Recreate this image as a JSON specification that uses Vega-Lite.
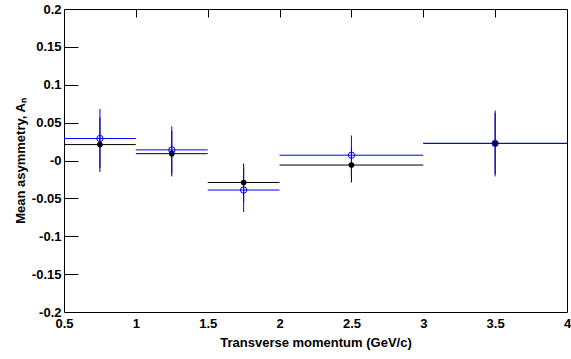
{
  "$schema": "https://vega.github.io/schema/vega-lite/v6.json",
  "width": 503,
  "height": 303,
  "autosize": "none",
  "padding": {"left": 64, "top": 9, "right": 4, "bottom": 47},
  "background": "white",
  "config": {
    "font": "Liberation Sans",
    "view": {"stroke": "#000", "strokeWidth": 1},
    "axis": {"domain": false, "ticks": false, "tickSize": 0, "grid": true, "gridColor": "#000", "gridOpacity": 1, "gridWidth": 1, "labelColor": "#000", "titleColor": "#000", "labelFont": "Liberation Sans", "titleFont": "Liberation Sans", "labelFontWeight": "bold", "titleFontWeight": "bold", "labelFontSize": 13, "titleFontSize": 13}
  },
  "data": {"values": [
    {"series": "black", "x": 0.75, "xlo": 0.5, "xhi": 1.0, "y": 0.021, "ylo": -0.015, "yhi": 0.057},
    {"series": "black", "x": 1.25, "xlo": 1.0, "xhi": 1.5, "y": 0.009, "ylo": -0.021, "yhi": 0.039},
    {"series": "black", "x": 1.75, "xlo": 1.5, "xhi": 2.0, "y": -0.029, "ylo": -0.055, "yhi": -0.004},
    {"series": "black", "x": 2.5, "xlo": 2.0, "xhi": 3.0, "y": -0.006, "ylo": -0.029, "yhi": 0.017},
    {"series": "black", "x": 3.5, "xlo": 3.0, "xhi": 4.0, "y": 0.0226, "ylo": -0.018, "yhi": 0.063},
    {"series": "blue", "x": 0.75, "xlo": 0.5, "xhi": 1.0, "y": 0.029, "ylo": -0.01, "yhi": 0.068},
    {"series": "blue", "x": 1.25, "xlo": 1.0, "xhi": 1.5, "y": 0.014, "ylo": -0.017, "yhi": 0.045},
    {"series": "blue", "x": 1.75, "xlo": 1.5, "xhi": 2.0, "y": -0.039, "ylo": -0.068, "yhi": -0.01},
    {"series": "blue", "x": 2.5, "xlo": 2.0, "xhi": 3.0, "y": 0.007, "ylo": -0.019, "yhi": 0.033},
    {"series": "blue", "x": 3.5, "xlo": 3.0, "xhi": 4.0, "y": 0.0226, "ylo": -0.021, "yhi": 0.066}
  ]},
  "resolve": {"scale": {"x": "shared", "y": "shared"}, "axis": {"x": "independent", "y": "independent"}},
  "layer": [
    {
      "transform": [{"filter": "datum.series == 'black'"}],
      "mark": {"type": "rule", "color": "#000", "strokeWidth": 1},
      "encoding": {
        "x": {"field": "xlo", "type": "quantitative", "scale": {"domain": [0.5, 4], "nice": false, "zero": false},
          "axis": {"orient": "bottom", "values": [1, 1.5, 2, 2.5, 3, 3.5], "gridDash": [8, 2000], "labelPadding": 5, "labelExpr": "toString(datum.value)", "title": "Transverse momentum (GeV/c)", "titlePadding": 6, "labelFlush": false, "labelOverlap": false}},
        "x2": {"field": "xhi"},
        "y": {"field": "y", "type": "quantitative", "scale": {"domain": [-0.2, 0.2], "nice": false, "zero": false},
          "axis": {"orient": "left", "values": [-0.15, -0.1, -0.05, 0, 0.05, 0.1, 0.15], "gridDash": [14, 2000], "labelPadding": 3, "labelExpr": "datum.value == 0 ? '-0' : toString(datum.value)", "title": "Mean asymmetry, Aₙ", "titlePadding": 4, "labelFlush": false, "labelOverlap": false}}
      }
    },
    {
      "transform": [{"filter": "datum.series == 'black'"}],
      "mark": {"type": "rule", "color": "#000", "strokeWidth": 1},
      "encoding": {
        "x": {"field": "x", "type": "quantitative", "scale": {"domain": [0.5, 4], "nice": false, "zero": false}, "axis": null},
        "y": {"field": "ylo", "type": "quantitative", "scale": {"domain": [-0.2, 0.2], "nice": false, "zero": false}, "axis": null},
        "y2": {"field": "yhi"}
      }
    },
    {
      "transform": [{"filter": "datum.series == 'blue'"}],
      "mark": {"type": "rule", "color": "#0000ff", "strokeWidth": 1},
      "encoding": {
        "x": {"field": "xlo", "type": "quantitative", "scale": {"domain": [0.5, 4], "nice": false, "zero": false}, "axis": null},
        "x2": {"field": "xhi"},
        "y": {"field": "y", "type": "quantitative", "scale": {"domain": [-0.2, 0.2], "nice": false, "zero": false}, "axis": null}
      }
    },
    {
      "transform": [{"filter": "datum.series == 'blue'"}],
      "mark": {"type": "rule", "color": "#0000ff", "strokeWidth": 1},
      "encoding": {
        "x": {"field": "x", "type": "quantitative", "scale": {"domain": [0.5, 4], "nice": false, "zero": false}, "axis": null},
        "y": {"field": "ylo", "type": "quantitative", "scale": {"domain": [-0.2, 0.2], "nice": false, "zero": false}, "axis": null},
        "y2": {"field": "yhi"}
      }
    },
    {
      "transform": [{"filter": "datum.series == 'black'"}],
      "mark": {"type": "point", "shape": "circle", "filled": true, "color": "#000", "size": 32, "opacity": 1},
      "encoding": {
        "x": {"field": "x", "type": "quantitative", "scale": {"domain": [0.5, 4], "nice": false, "zero": false}, "axis": null},
        "y": {"field": "y", "type": "quantitative", "scale": {"domain": [-0.2, 0.2], "nice": false, "zero": false}, "axis": null}
      }
    },
    {
      "transform": [{"filter": "datum.series == 'blue'"}],
      "mark": {"type": "point", "shape": "circle", "filled": false, "color": "#0000ff", "strokeWidth": 1, "size": 40, "opacity": 1},
      "encoding": {
        "x": {"field": "x", "type": "quantitative", "scale": {"domain": [0.5, 4], "nice": false, "zero": false}, "axis": null},
        "y": {"field": "y", "type": "quantitative", "scale": {"domain": [-0.2, 0.2], "nice": false, "zero": false}, "axis": null}
      }
    },
    {
      "mark": {"type": "point", "opacity": 0},
      "encoding": {
        "x": {"field": "x", "type": "quantitative", "scale": {"domain": [0.5, 4], "nice": false, "zero": false},
          "axis": {"orient": "bottom", "values": [0.5, 0.6, 0.7, 0.8, 0.9, 1.1, 1.2, 1.3, 1.4, 1.6, 1.7, 1.8, 1.9, 2.1, 2.2, 2.3, 2.4, 2.6, 2.7, 2.8, 2.9, 3.1, 3.2, 3.3, 3.4, 3.6, 3.7, 3.8, 3.9, 4], "gridDash": [4, 2000], "labelExpr": "datum.value == 0.5 || datum.value == 4 ? toString(datum.value) : ''", "labelPadding": 5, "labelFlush": false, "labelOverlap": false, "title": null}},
        "y": {"field": "y", "type": "quantitative", "scale": {"domain": [-0.2, 0.2], "nice": false, "zero": false},
          "axis": {"orient": "left", "values": [-0.2, -0.19, -0.18, -0.17, -0.16, -0.14, -0.13, -0.12, -0.11, -0.09, -0.08, -0.07, -0.06, -0.04, -0.03, -0.02, -0.01, 0.01, 0.02, 0.03, 0.04, 0.06, 0.07, 0.08, 0.09, 0.11, 0.12, 0.13, 0.14, 0.16, 0.17, 0.18, 0.19, 0.2], "gridDash": [7, 2000], "labelExpr": "datum.value == 0.2 || datum.value == -0.2 ? toString(datum.value) : ''", "labelPadding": 3, "labelFlush": false, "labelOverlap": false, "title": null}}
      }
    }
  ]
}
